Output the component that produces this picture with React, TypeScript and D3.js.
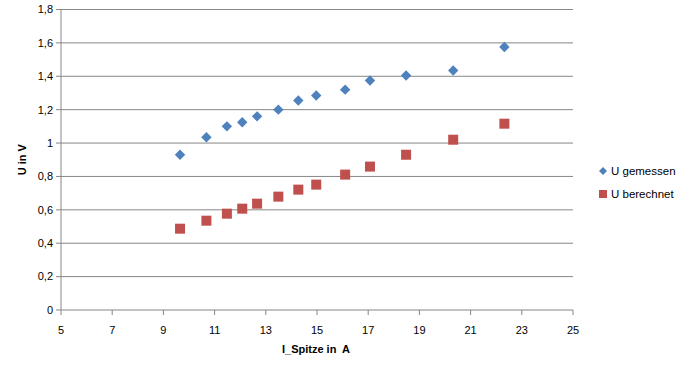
import React from "react";
import * as d3 from "d3";

const currentA = [9.65, 10.68, 11.48, 12.08, 12.66, 13.49, 14.27, 14.97, 16.1, 17.07, 18.48, 20.32, 22.32];
const uGemessen = [0.93, 1.035, 1.1, 1.125, 1.16, 1.2, 1.255, 1.285, 1.32, 1.375, 1.405, 1.435, 1.575];
const uBerechnet = [0.487, 0.535, 0.577, 0.607, 0.637, 0.679, 0.721, 0.751, 0.811, 0.859, 0.93, 1.02, 1.116];
const xTicks = [5, 7, 9, 11, 13, 15, 17, 19, 21, 23, 25];
const yTicks = [0, 0.2, 0.4, 0.6, 0.8, 1, 1.2, 1.4, 1.6, 1.8];
const seriesNames = ["U gemessen", "U berechnet"];

const W = 688, H = 365;
const left = 61, right = 573, top = 9.5, bottom = 310;
const font = "'Liberation Sans', Arial, sans-serif";

const diamondPath = (r: number) => {
  const p = d3.path();
  p.moveTo(0, -r);
  p.lineTo(r, 0);
  p.lineTo(0, r);
  p.lineTo(-r, 0);
  p.closePath();
  return p.toString();
};

export default function App() {
  const x = d3.scaleLinear().domain([5, 25]).range([left, right]);
  const y = d3.scaleLinear().domain([0, 1.8]).range([bottom, top]);
  const fmt = (v: number) => String(Math.round(v * 10) / 10).replace(".", ",");
  const diamond = diamondPath(5.2);
  const legendDiamond = diamondPath(4);

  return (
    <svg width={W} height={H} style={{ position: "absolute", left: 0, top: 0, background: "#fff" }}>
      {yTicks.map((t) => (
        <g key={"y" + t}>
          {t > 0 && <line x1={left} x2={right} y1={y(t)} y2={y(t)} stroke="#868686" strokeWidth={1} />}
          <line x1={left - 5} x2={left} y1={y(t)} y2={y(t)} stroke="#868686" />
          <text x={53} y={y(t)} dy="0.35em" textAnchor="end" fontFamily={font} fontSize={11} fill="#000">
            {fmt(t)}
          </text>
        </g>
      ))}
      <line x1={left} x2={left} y1={top} y2={bottom} stroke="#868686" />
      <line x1={left} x2={right} y1={bottom} y2={bottom} stroke="#868686" />
      {xTicks.map((t) => (
        <g key={"x" + t}>
          <line x1={x(t)} x2={x(t)} y1={bottom} y2={bottom + 5} stroke="#868686" />
          <text x={x(t)} y={330} dy="0.35em" textAnchor="middle" fontFamily={font} fontSize={11} fill="#000">
            {t}
          </text>
        </g>
      ))}
      <text
        transform={`translate(22,${(top + bottom) / 2}) rotate(-90)`}
        textAnchor="middle"
        dy="0.35em"
        fontFamily={font}
        fontSize={11}
        fontWeight="bold"
      >
        U in V
      </text>
      <text
        x={316}
        y={349}
        textAnchor="middle"
        dy="0.35em"
        fontFamily={font}
        fontSize={11}
        fontWeight="bold"
        style={{ whiteSpace: "pre" }}
      >
        {"I_Spitze in  A"}
      </text>
      {currentA.map((c, i) => (
        <path key={"g" + i} d={diamond} transform={`translate(${x(c)},${y(uGemessen[i])})`} fill="#4F81BD" />
      ))}
      {currentA.map((c, i) => (
        <rect key={"b" + i} x={x(c) - 5} y={y(uBerechnet[i]) - 5} width={10} height={10} fill="#C0504D" />
      ))}
      <path d={legendDiamond} transform="translate(603,171)" fill="#4F81BD" />
      <text x={611} y={171} dy="0.35em" fontFamily={font} fontSize={11.5}>
        {seriesNames[0]}
      </text>
      <rect x={599} y={190} width={8} height={8} fill="#C0504D" />
      <text x={611} y={194} dy="0.35em" fontFamily={font} fontSize={11.5}>
        {seriesNames[1]}
      </text>
    </svg>
  );
}
